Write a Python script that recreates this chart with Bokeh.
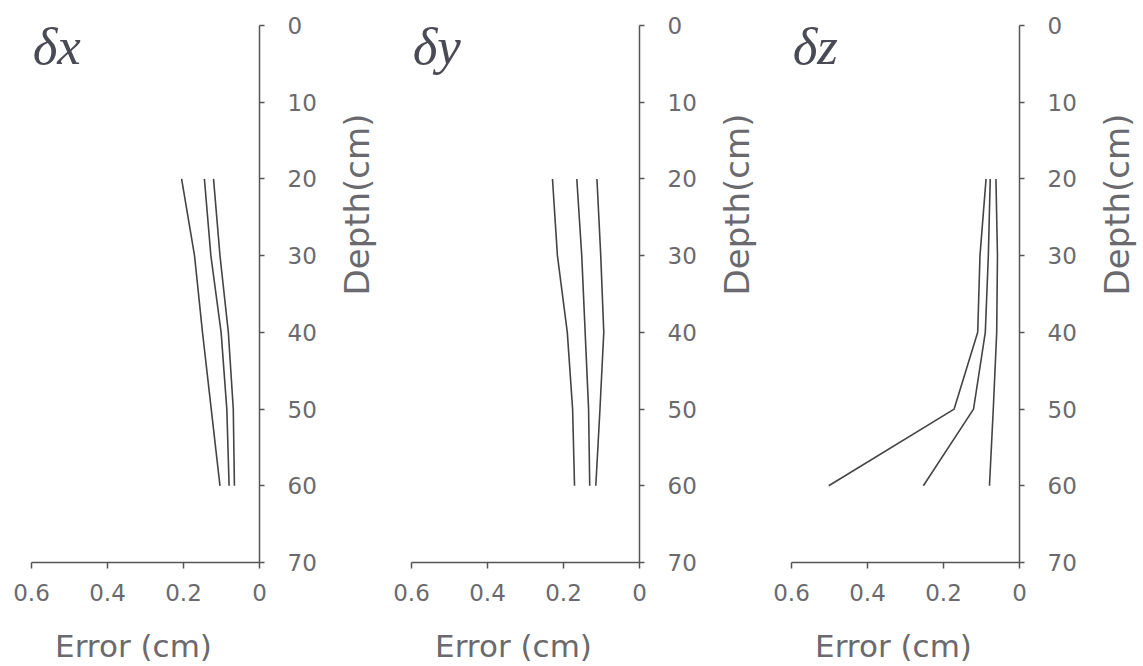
from bokeh.plotting import figure
from bokeh.models import Range1d, LinearAxis, Label, FixedTicker
from bokeh.layouts import row, column
from bokeh.embed import file_html
from bokeh.resources import INLINE
from bokeh.core.properties import value
import math

depth = [20, 30, 40, 50, 60]

dx_1 = [0.205, 0.171, 0.150, 0.127, 0.104]
dx_2 = [0.145, 0.128, 0.101, 0.086, 0.080]
dx_3 = [0.121, 0.104, 0.082, 0.069, 0.066]

dy_1 = [0.229, 0.216, 0.190, 0.176, 0.171]
dy_2 = [0.165, 0.152, 0.143, 0.134, 0.131]
dy_3 = [0.112, 0.102, 0.094, 0.104, 0.115]

dz_1 = [0.088, 0.104, 0.110, 0.172, 0.502]
dz_2 = [0.077, 0.082, 0.090, 0.121, 0.253]
dz_3 = [0.062, 0.058, 0.060, 0.069, 0.079]

titles = ["δx", "δy", "δz"]
series = [[dx_1, dx_2, dx_3], [dy_1, dy_2, dy_3], [dz_1, dz_2, dz_3]]
x_ticks = [0.6, 0.4, 0.2, 0]
y_ticks = [0, 10, 20, 30, 40, 50, 60, 70]
x_label = "Error (cm)"
y_label = "Depth(cm)"

TEXT = "#6a6a6e"
AXIS = "#555555"
LINE = "#444444"
FONT = "DejaVu Sans"
H = 612          # height of the panel row
STRIP_H = 54     # height of the strip holding the x-axis titles


def make_panel(title, lines, border_left):
    width = border_left + 228 + 76
    p = figure(width=width, height=H, output_backend="svg", toolbar_location=None,
               x_range=Range1d(0.6, 0), y_range=Range1d(70, 0),
               x_axis_location=None, y_axis_location=None,
               min_border_left=border_left, min_border_right=76,
               min_border_top=25, min_border_bottom=H - 25 - 537)
    p.outline_line_color = None
    p.grid.visible = False

    xa = LinearAxis(ticker=FixedTicker(ticks=x_ticks))
    xa.major_label_overrides = {0: "0", 0.2: "0.2", 0.4: "0.4", 0.6: "0.6"}
    xa.axis_line_color = AXIS
    xa.axis_line_width = 1.5
    xa.major_tick_line_color = AXIS
    xa.major_tick_line_width = 1.5
    xa.major_tick_out = 6
    xa.major_tick_in = 0
    xa.minor_tick_line_color = None
    xa.major_label_text_font = FONT
    xa.major_label_text_font_size = "23px"
    xa.major_label_text_color = TEXT
    xa.major_label_standoff = 15
    p.add_layout(xa, "below")

    ya = LinearAxis(ticker=FixedTicker(ticks=y_ticks))
    ya.axis_line_color = AXIS
    ya.axis_line_width = 1.5
    ya.major_tick_line_color = AXIS
    ya.major_tick_line_width = 1.5
    ya.major_tick_out = 5
    ya.major_tick_in = 0
    ya.minor_tick_line_color = None
    ya.major_label_text_font = FONT
    ya.major_label_text_font_size = "23px"
    ya.major_label_text_color = TEXT
    ya.major_label_text_align = "center"
    ya.major_label_standoff = 23
    p.add_layout(ya, "right")

    for xs in lines:
        p.line(x=xs, y=depth, line_color=LINE, line_width=1.6)

    p.add_layout(Label(x=0.597, y=2.7, text=title, text_font="Liberation Serif",
                       text_font_style="italic", text_font_size="53px",
                       text_color="#4a4a55", text_baseline="alphabetic", text_align="left"))
    return p


def make_label(width):
    q = figure(width=width, height=H, output_backend="svg", toolbar_location=None,
               x_range=Range1d(0, width), y_range=Range1d(0, H),
               x_axis_location=None, y_axis_location=None,
               min_border=0)
    q.outline_line_color = None
    q.grid.visible = False
    q.text(x=[21], y=[H - 204], text=[y_label], angle=math.pi / 2,
           text_font=value(FONT), text_font_size="34px", text_color=TEXT,
           text_align="center", text_baseline="middle")
    return q


def make_strip(width, centers):
    s = figure(width=width, height=STRIP_H, output_backend="svg", toolbar_location=None,
               x_range=Range1d(0, width), y_range=Range1d(0, STRIP_H),
               x_axis_location=None, y_axis_location=None,
               min_border=0)
    s.outline_line_color = None
    s.grid.visible = False
    s.text(x=centers, y=[STRIP_H - 33] * len(centers), text=[x_label] * len(centers),
           text_font=value(FONT), text_font_size="31px", text_color=TEXT,
           text_align="center", text_baseline="middle")
    return s


p1 = make_panel(titles[0], series[0], 31)
l1 = make_label(53)
p2 = make_panel(titles[1], series[1], 23)
l2 = make_label(53)
p3 = make_panel(titles[2], series[2], 23)
l3 = make_label(45)
strip = make_strip(1140, [133, 513, 893])

layout = column(row(p1, l1, p2, l2, p3, l3, spacing=0), strip, spacing=0)
open("out.html", "w").write(file_html(layout, INLINE))
